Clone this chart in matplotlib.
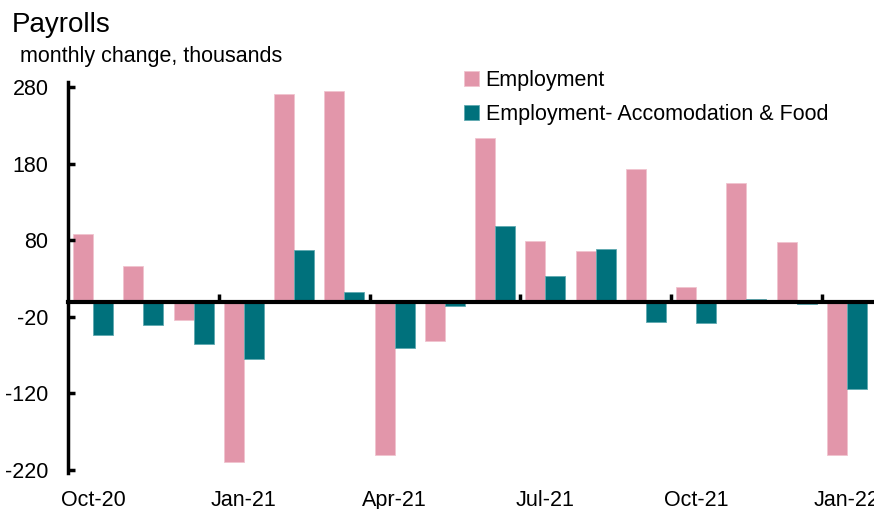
import matplotlib.pyplot as plt
import numpy as np

plt.rcParams['font.family'] = ['Liberation Sans', 'DejaVu Sans']
plt.rcParams['axes.unicode_minus'] = False

# 월별 데이터 (천 명)
months = ['Oct-20', 'Nov-20', 'Dec-20', 'Jan-21', 'Feb-21', 'Mar-21', 'Apr-21', 'May-21',
          'Jun-21', 'Jul-21', 'Aug-21', 'Sep-21', 'Oct-21', 'Nov-21', 'Dec-21', 'Jan-22']
employment = [88, 47, -24, -210, 271, 275, -201, -52, 214, 79, 66, 173, 19, 155, 78, -201]
accom_food = [-44, -31, -55, -75, 67, 12, -61, -6, 99, 34, 69, -27, -28, 4, -3, -114]
yticks = [-220, -120, -20, 80, 180, 280]

pink = '#e296aa'
teal = '#00717c'

fig = plt.figure(figsize=(8.74, 5.09), dpi=100)
ax = fig.add_axes([68 / 874, 1 - 473 / 509, 804 / 874, (473 - 82) / 509])

x = np.arange(len(months))
w = 0.4
ax.bar(x - w / 2, employment, w, color=pink, edgecolor='#f0c4cf', linewidth=0.6, label='Employment')
ax.bar(x + w / 2, accom_food, w, color=teal, edgecolor='#5fa9b0', linewidth=0.6,
       label='Employment- Accomodation & Food')

ax.set_xlim(-0.5, len(months) - 0.5)
ax.set_ylim(-224, 287)

for s in ['top', 'right']:
    ax.spines[s].set_visible(False)
ax.spines['left'].set_linewidth(2.5)
ax.spines['bottom'].set_position(('data', 0))
ax.spines['bottom'].set_linewidth(3)

ax.set_yticks(yticks)
ax.tick_params(axis='y', direction='in', length=5, width=2.5, labelsize=15.5, pad=14)

# 분기 경계에 작은 눈금
ax.set_xticks(x[2::3] + 0.5)
ax.tick_params(axis='x', direction='in', length=6, width=2.5, labelbottom=False)

# 분기 라벨은 아래쪽에
sec = ax.secondary_xaxis('bottom')
sec.set_xticks(x[::3])
sec.set_xticklabels(months[::3])
sec.spines['bottom'].set_visible(False)
sec.tick_params(length=0, labelsize=15.5, pad=12)

fig.text(12 / 874, 1 - 32 / 509, 'Payrolls', fontsize=20, va='baseline', ha='left')
fig.text(20 / 874, 1 - 62 / 509, 'monthly change, thousands', fontsize=15.5, va='baseline', ha='left')

fig.legend(loc='upper left', bbox_to_anchor=(464 / 874, 1 - 70 / 509), frameon=False,
           fontsize=15.5, handlelength=0.7, handleheight=0.7, handletextpad=0.3,
           labelspacing=0.6, borderaxespad=0, borderpad=0)

fig.savefig('out.png', dpi=100)
